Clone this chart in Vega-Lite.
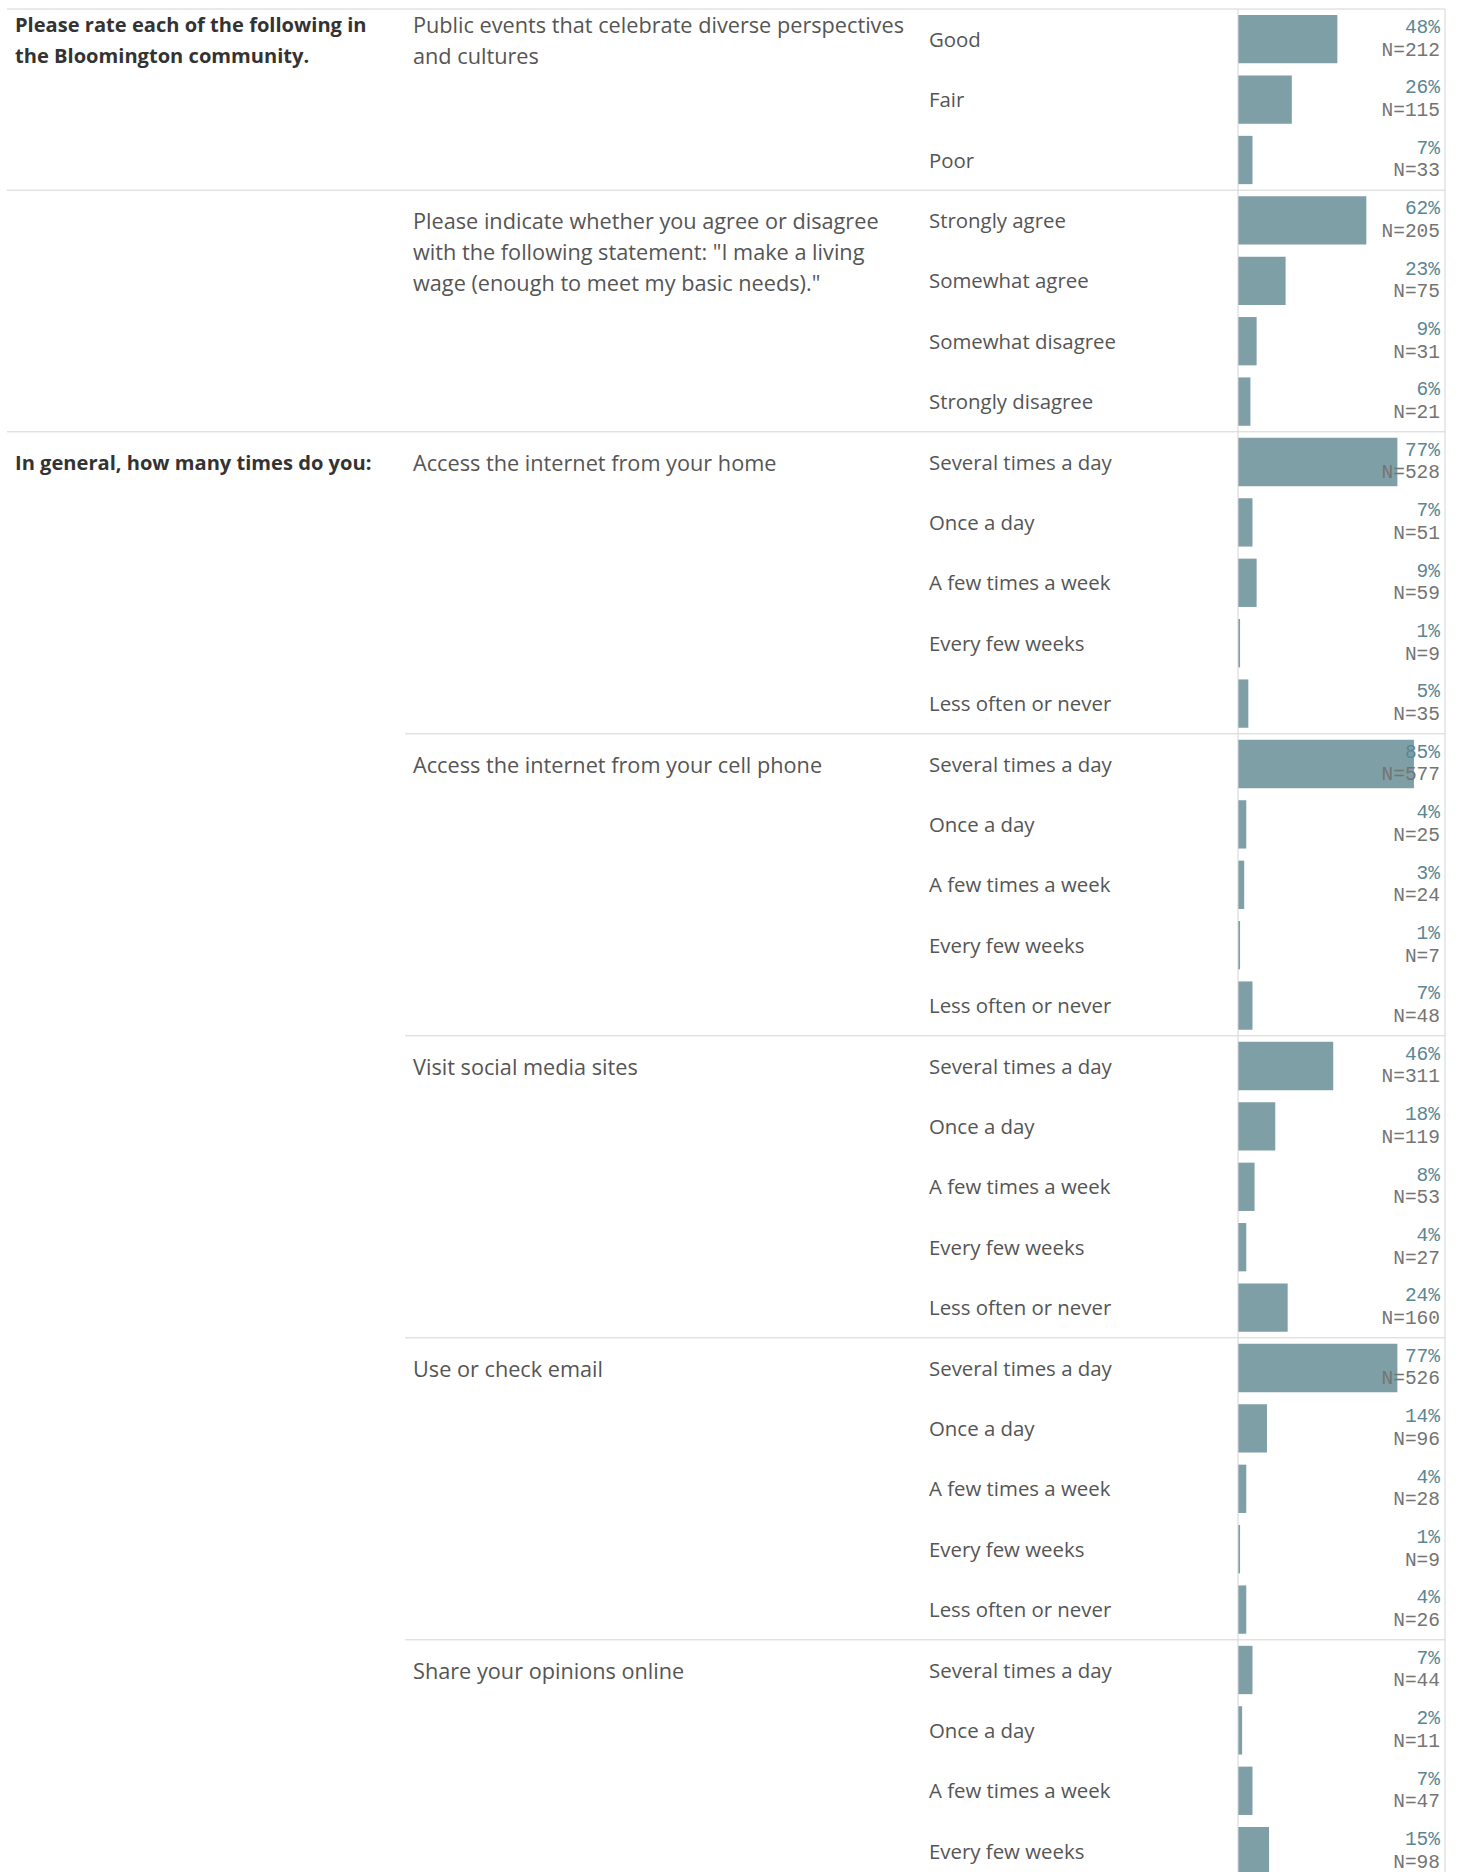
{
  "$schema": "https://vega.github.io/schema/vega-lite/v6.json",
  "padding": {"left": 6, "top": 8, "right": 10, "bottom": 0},
  "background": "white",
  "bounds": "flush",
  "spacing": 0,
  "config": {"view": {"stroke": null}, "concat": {"spacing": 0}, "text": {"font": "Open Sans"}},
  "data": {"values": [
    {"section": "Please rate each of the following in\nthe Bloomington community.", "question": "Public events that celebrate diverse perspectives\nand cultures", "answer": "Good", "pct": 48, "n": 212},
    {"section": "Please rate each of the following in\nthe Bloomington community.", "question": "Public events that celebrate diverse perspectives\nand cultures", "answer": "Fair", "pct": 26, "n": 115},
    {"section": "Please rate each of the following in\nthe Bloomington community.", "question": "Public events that celebrate diverse perspectives\nand cultures", "answer": "Poor", "pct": 7, "n": 33},
    {"section": "", "question": "Please indicate whether you agree or disagree\nwith the following statement: \"I make a living\nwage (enough to meet my basic needs).\"", "answer": "Strongly agree", "pct": 62, "n": 205},
    {"section": "", "question": "Please indicate whether you agree or disagree\nwith the following statement: \"I make a living\nwage (enough to meet my basic needs).\"", "answer": "Somewhat agree", "pct": 23, "n": 75},
    {"section": "", "question": "Please indicate whether you agree or disagree\nwith the following statement: \"I make a living\nwage (enough to meet my basic needs).\"", "answer": "Somewhat disagree", "pct": 9, "n": 31},
    {"section": "", "question": "Please indicate whether you agree or disagree\nwith the following statement: \"I make a living\nwage (enough to meet my basic needs).\"", "answer": "Strongly disagree", "pct": 6, "n": 21},
    {"section": "In general, how many times do you:", "question": "Access the internet from your home", "answer": "Several times a day", "pct": 77, "n": 528},
    {"section": "In general, how many times do you:", "question": "Access the internet from your home", "answer": "Once a day", "pct": 7, "n": 51},
    {"section": "In general, how many times do you:", "question": "Access the internet from your home", "answer": "A few times a week", "pct": 9, "n": 59},
    {"section": "In general, how many times do you:", "question": "Access the internet from your home", "answer": "Every few weeks", "pct": 1, "n": 9},
    {"section": "In general, how many times do you:", "question": "Access the internet from your home", "answer": "Less often or never", "pct": 5, "n": 35},
    {"section": "In general, how many times do you:", "question": "Access the internet from your cell phone", "answer": "Several times a day", "pct": 85, "n": 577},
    {"section": "In general, how many times do you:", "question": "Access the internet from your cell phone", "answer": "Once a day", "pct": 4, "n": 25},
    {"section": "In general, how many times do you:", "question": "Access the internet from your cell phone", "answer": "A few times a week", "pct": 3, "n": 24},
    {"section": "In general, how many times do you:", "question": "Access the internet from your cell phone", "answer": "Every few weeks", "pct": 1, "n": 7},
    {"section": "In general, how many times do you:", "question": "Access the internet from your cell phone", "answer": "Less often or never", "pct": 7, "n": 48},
    {"section": "In general, how many times do you:", "question": "Visit social media sites", "answer": "Several times a day", "pct": 46, "n": 311},
    {"section": "In general, how many times do you:", "question": "Visit social media sites", "answer": "Once a day", "pct": 18, "n": 119},
    {"section": "In general, how many times do you:", "question": "Visit social media sites", "answer": "A few times a week", "pct": 8, "n": 53},
    {"section": "In general, how many times do you:", "question": "Visit social media sites", "answer": "Every few weeks", "pct": 4, "n": 27},
    {"section": "In general, how many times do you:", "question": "Visit social media sites", "answer": "Less often or never", "pct": 24, "n": 160},
    {"section": "In general, how many times do you:", "question": "Use or check email", "answer": "Several times a day", "pct": 77, "n": 526},
    {"section": "In general, how many times do you:", "question": "Use or check email", "answer": "Once a day", "pct": 14, "n": 96},
    {"section": "In general, how many times do you:", "question": "Use or check email", "answer": "A few times a week", "pct": 4, "n": 28},
    {"section": "In general, how many times do you:", "question": "Use or check email", "answer": "Every few weeks", "pct": 1, "n": 9},
    {"section": "In general, how many times do you:", "question": "Use or check email", "answer": "Less often or never", "pct": 4, "n": 26},
    {"section": "In general, how many times do you:", "question": "Share your opinions online", "answer": "Several times a day", "pct": 7, "n": 44},
    {"section": "In general, how many times do you:", "question": "Share your opinions online", "answer": "Once a day", "pct": 2, "n": 11},
    {"section": "In general, how many times do you:", "question": "Share your opinions online", "answer": "A few times a week", "pct": 7, "n": 47},
    {"section": "In general, how many times do you:", "question": "Share your opinions online", "answer": "Every few weeks", "pct": 15, "n": 98}
  ]},
  "transform": [
    {"calculate": "datum.question + '|' + datum.answer", "as": "key"},
    {"window": [{"op": "row_number", "as": "idx"}]},
    {"window": [{"op": "row_number", "as": "qrn"}], "groupby": ["question"]},
    {"window": [{"op": "row_number", "as": "srn"}], "groupby": ["section"]},
    {"calculate": "length(split(datum.question, '\\n'))", "as": "qlines"},
    {"calculate": "length(split(datum.section, '\\n'))", "as": "slines"},
    {"calculate": "datum.pct + '%'", "as": "pctLabel"},
    {"calculate": "'N=' + datum.n", "as": "nLabel"}
  ],
  "hconcat": [
    {
      "width": 398,
      "height": {"step": 60.4},
      "layer": [
        {
          "mark": {"type": "rule", "color": "#d4d4d4", "strokeWidth": 1},
          "encoding": {
            "y": {"field": "key", "type": "nominal", "sort": {"field": "idx", "op": "min"}, "axis": null, "scale": {"paddingInner": 0, "paddingOuter": 0}, "bandPosition": 0},
            "strokeOpacity": {"condition": {"test": "datum.srn == 1", "value": 1}, "value": 0}
          }
        },
        {
          "mark": {"type": "text", "align": "left", "baseline": "middle", "dx": 8, "dy": 1.6, "fontSize": 20.1, "fontWeight": "bold", "color": "#333333", "lineBreak": "\n", "lineHeight": 31},
          "encoding": {
            "y": {"field": "key", "type": "nominal", "sort": {"field": "idx", "op": "min"}, "axis": null, "scale": {"paddingInner": 0, "paddingOuter": 0}, "bandPosition": 0.5},
            "x": {"value": 0},
            "text": {"condition": {"test": "datum.srn == 1 && datum.slines != 2", "field": "section"}, "value": ""}
          }
        },
        {
          "mark": {"type": "text", "align": "left", "baseline": "middle", "dx": 8, "dy": -12.9, "fontSize": 20.1, "fontWeight": "bold", "color": "#333333", "lineBreak": "\n", "lineHeight": 31},
          "encoding": {
            "y": {"field": "key", "type": "nominal", "sort": {"field": "idx", "op": "min"}, "axis": null, "scale": {"paddingInner": 0, "paddingOuter": 0}, "bandPosition": 0.5},
            "x": {"value": 0},
            "text": {"condition": {"test": "datum.srn == 1 && datum.slines == 2", "field": "section"}, "value": ""}
          }
        }
      ]
    },
    {
      "width": 516,
      "height": {"step": 60.4},
      "layer": [
        {
          "mark": {"type": "rule", "color": "#d4d4d4", "strokeWidth": 1},
          "encoding": {
            "y": {"field": "key", "type": "nominal", "sort": {"field": "idx", "op": "min"}, "axis": null, "scale": {"paddingInner": 0, "paddingOuter": 0}, "bandPosition": 0},
            "strokeOpacity": {"condition": {"test": "datum.qrn == 1", "value": 1}, "value": 0}
          }
        },
        {
          "mark": {"type": "text", "align": "left", "baseline": "middle", "dx": 8, "dy": 2, "fontSize": 21.7, "color": "#555555", "lineBreak": "\n", "lineHeight": 31},
          "encoding": {
            "y": {"field": "key", "type": "nominal", "sort": {"field": "idx", "op": "min"}, "axis": null, "scale": {"paddingInner": 0, "paddingOuter": 0}, "bandPosition": 0.5},
            "x": {"value": 0},
            "text": {"condition": {"test": "datum.qrn == 1 && datum.qlines != 2", "field": "question"}, "value": ""}
          }
        },
        {
          "mark": {"type": "text", "align": "left", "baseline": "middle", "dx": 8, "dy": -12.9, "fontSize": 21.7, "color": "#555555", "lineBreak": "\n", "lineHeight": 31},
          "encoding": {
            "y": {"field": "key", "type": "nominal", "sort": {"field": "idx", "op": "min"}, "axis": null, "scale": {"paddingInner": 0, "paddingOuter": 0}, "bandPosition": 0.5},
            "x": {"value": 0},
            "text": {"condition": {"test": "datum.qrn == 1 && datum.qlines == 2", "field": "question"}, "value": ""}
          }
        }
      ]
    },
    {
      "width": 317,
      "height": {"step": 60.4},
      "layer": [
        {
          "mark": {"type": "rule", "color": "#d4d4d4", "strokeWidth": 1},
          "encoding": {
            "y": {"field": "key", "type": "nominal", "sort": {"field": "idx", "op": "min"}, "axis": null, "scale": {"paddingInner": 0, "paddingOuter": 0}, "bandPosition": 0},
            "strokeOpacity": {"condition": {"test": "datum.qrn == 1", "value": 1}, "value": 0}
          }
        },
        {
          "mark": {"type": "text", "align": "left", "baseline": "middle", "dx": 8, "dy": 1.5, "fontSize": 20.4, "color": "#555555"},
          "encoding": {
            "y": {"field": "key", "type": "nominal", "sort": {"field": "idx", "op": "min"}, "axis": null, "scale": {"paddingInner": 0, "paddingOuter": 0}, "bandPosition": 0.5},
            "x": {"value": 0},
            "text": {"field": "answer"}
          }
        }
      ]
    },
    {
      "width": 207,
      "height": {"step": 60.4},
      "layer": [
        {
          "mark": {"type": "rule", "color": "#d4d4d4", "strokeWidth": 1},
          "encoding": {
            "y": {"field": "key", "type": "nominal", "sort": {"field": "idx", "op": "min"}, "axis": null, "scale": {"paddingInner": 0, "paddingOuter": 0}, "bandPosition": 0},
            "strokeOpacity": {"condition": {"test": "datum.qrn == 1", "value": 1}, "value": 0}
          }
        },
        {
          "mark": {"type": "bar", "color": "#7f9fa6", "height": {"band": 0.8}},
          "encoding": {
            "y": {"field": "key", "type": "nominal", "sort": {"field": "idx", "op": "min"}, "axis": null, "scale": {"paddingInner": 0, "paddingOuter": 0}},
            "x": {"field": "pct", "type": "quantitative", "scale": {"domain": [0, 100], "nice": false}, "axis": null}
          }
        },
        {
          "data": {"values": [{}]},
          "mark": {"type": "rule", "color": "#d4d4d4", "strokeWidth": 1},
          "encoding": {"x": {"datum": 0, "type": "quantitative"}}
        },
        {
          "data": {"values": [{}]},
          "mark": {"type": "rule", "color": "#d4d4d4", "strokeWidth": 1},
          "encoding": {"x": {"datum": 100, "type": "quantitative"}}
        },
        {
          "mark": {"type": "text", "align": "right", "baseline": "middle", "dx": -5, "dy": 18, "fontSize": 19.5, "font": "Liberation Mono", "color": "#5a8793"},
          "encoding": {
            "y": {"field": "key", "type": "nominal", "sort": {"field": "idx", "op": "min"}, "axis": null, "scale": {"paddingInner": 0, "paddingOuter": 0}, "bandPosition": 0},
            "x": {"datum": 100, "type": "quantitative"},
            "text": {"field": "pctLabel"}
          }
        },
        {
          "mark": {"type": "text", "align": "right", "baseline": "middle", "dx": -5, "dy": 40.5, "fontSize": 19.5, "font": "Liberation Mono", "color": "#747474"},
          "encoding": {
            "y": {"field": "key", "type": "nominal", "sort": {"field": "idx", "op": "min"}, "axis": null, "scale": {"paddingInner": 0, "paddingOuter": 0}, "bandPosition": 0},
            "x": {"datum": 100, "type": "quantitative"},
            "text": {"field": "nLabel"}
          }
        }
      ]
    }
  ]
}
